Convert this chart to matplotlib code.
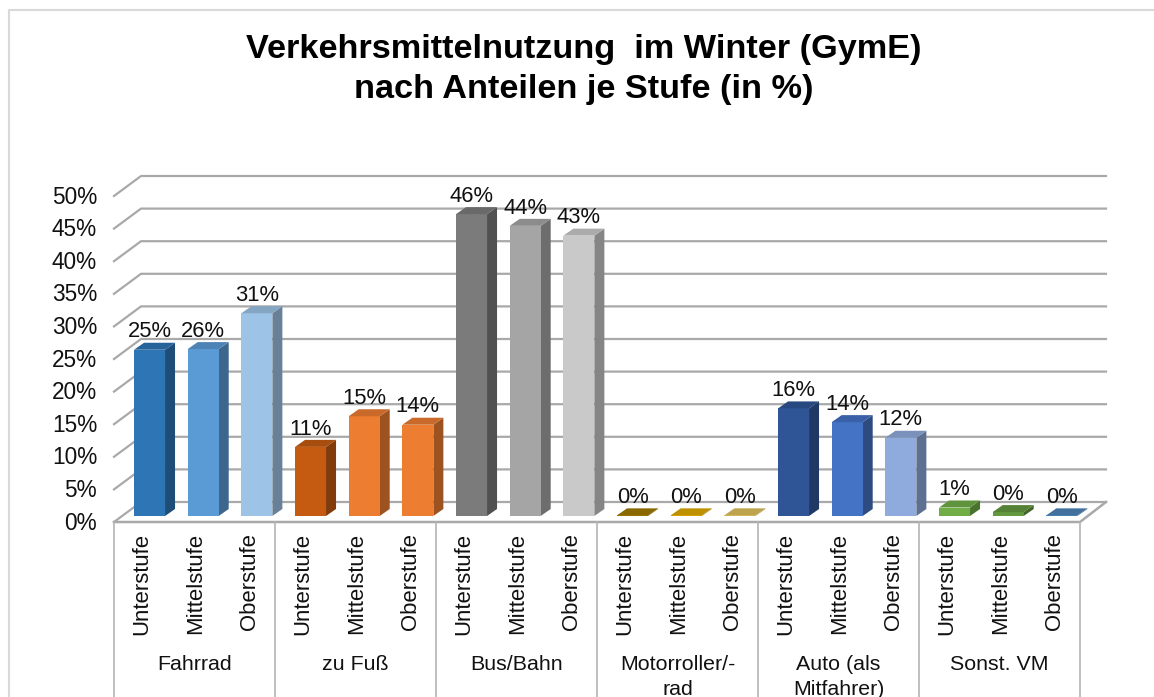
import matplotlib
matplotlib.use("Agg")
import matplotlib.pyplot as plt
from matplotlib.patches import Polygon

plt.rcParams["font.family"] = ["Liberation Sans", "DejaVu Sans"]

title = "Verkehrsmittelnutzung  im Winter (GymE)\nnach Anteilen je Stufe (in %)"
groups = ["Fahrrad", "zu Fuß", "Bus/Bahn", "Motorroller/-\nrad", "Auto (als\nMitfahrer)", "Sonst. VM"]
stufen = ["Unterstufe", "Mittelstufe", "Oberstufe"]
values = [25.5, 25.6, 31.1,
          10.6, 15.3, 14.0,
          46.3, 44.5, 43.0,
          0.1, 0.1, 0.1,
          16.5, 14.4, 12.0,
          1.3, 0.6, 0.1]
labels = ["25%", "26%", "31%", "11%", "15%", "14%", "46%", "44%", "43%",
          "0%", "0%", "0%", "16%", "14%", "12%", "1%", "0%", "0%"]
face = ["#2e75b6", "#5b9bd5", "#9dc3e6", "#c55a11", "#ed7d31", "#ed7d31",
        "#7b7b7b", "#a5a5a5", "#c9c9c9", "#a27a00", "#e0aa00", "#e0c05c",
        "#2f5597", "#4472c4", "#8faadc", "#70ad47", "#64993f", "#4c85b8"]
yticks = [0, 5, 10, 15, 20, 25, 30, 35, 40, 45, 50]


def shade(color, k):
    r, g, b = matplotlib.colors.to_rgb(color)
    return (r * k, g * k, b * k)


W, H = 1154, 697
fig = plt.figure(figsize=(W / 100, H / 100), dpi=100)
# axes in slots / percent: one slot per bar, y=0 is the foot of the bars
px_x = 966 / 18
px_y = 6.52
y0_px = 516
x_off = 8.7
ax = fig.add_axes([0, 0, 1, 1])
ax.set_xlim((0 - 114 - x_off) / px_x - 0.5, (W - 114 - x_off) / px_x - 0.5)
ax.set_ylim((y0_px - H) / px_y, y0_px / px_y)
ax.axis("off")


def X(px):
    return (px - 114 - x_off) / px_x - 0.5


def Y(px):
    return (y0_px - px) / px_y


line = "#a9a9a9"
# frame of the picture, open on the right
ax.plot([X(9), X(9), X(1154)], [Y(697), Y(10), Y(10)], color="#d9d9d9", lw=1.5)

# back wall grid and left wall
for g in yticks:
    ax.plot([X(114), X(141), X(1106)],
            [g + Y(522), g + Y(502), g + Y(502)], color=line, lw=1.6, zorder=1)
# floor
ax.plot([X(114), X(1080), X(1106)], [Y(522), Y(522), Y(502)], color=line, lw=1.8, zorder=1)

# category table below the floor
for k in range(7):
    xk = X(114 + k * 161)
    ax.plot([xk, xk], [Y(522), Y(697)], color="#b4b4b4", lw=1.2, zorder=1)

bar_w = 31 / px_x
dx = 10 / px_x
dy = 7 / px_y
xs = list(range(len(values)))
ax.bar(xs, values, width=bar_w, color=face, zorder=3, linewidth=0)
for x, v, c, lab in zip(xs, values, face, labels):
    l, r = x - bar_w / 2, x + bar_w / 2
    ax.add_patch(Polygon([(r, 0), (r + dx, dy), (r + dx, v + dy), (r, v)], color=shade(c, 0.66), lw=0, zorder=2.5))
    ax.add_patch(Polygon([(l, v), (l + dx, v + dy), (r + dx, v + dy), (r, v)], color=shade(c, 0.85), lw=0, zorder=3.1))
    ax.text(x, v + dy + 0.05, lab, ha="center", va="bottom", fontsize=15.8, color="#111111", zorder=5)

for g in yticks:
    ax.text(X(97), g + Y(523), f"{g}%", ha="right", va="center", fontsize=16.3, color="#111111")

for i, x in enumerate(xs):
    ax.text(x - 0.14, Y(533), stufen[i % 3], rotation=90, ha="center", va="top", fontsize=15.9, color="#111111")

for k, name in enumerate(groups):
    ax.text(X(114 + 161 * k + 80.5), Y(655), name, ha="center", va="top", fontsize=15.4,
            linespacing=1.38, color="#111111")

ax.text(X(584), Y(34), title, ha="center", va="top", fontsize=24.7, fontweight="bold",
        linespacing=1.37, color="black")

fig.savefig("out.png", dpi=100)
